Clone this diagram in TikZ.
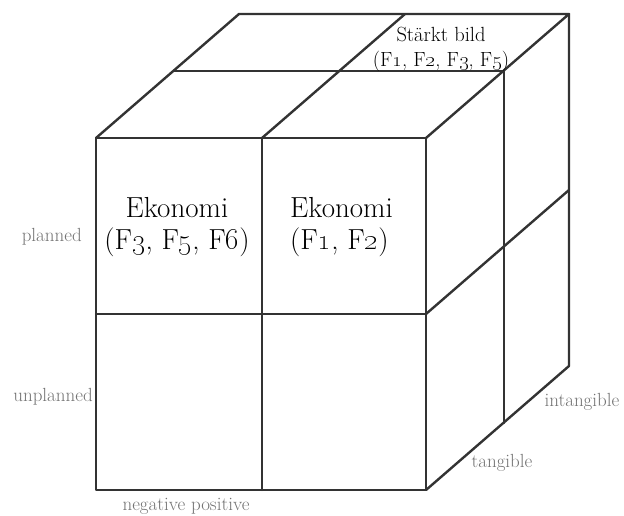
\documentclass[tikz,border=0pt]{standalone}
\usetikzlibrary{positioning}
\newcommand{\os}[1]{\oldstylenums{#1}}
\begin{document}
\begin{tikzpicture}[
    x=1pt, y=-1pt,
    edge/.style    ={line width=2.4pt, draw=black!80, line join=round, line cap=round},
    cell/.style    ={align=center, inner sep=0pt, font=\fontsize{29}{32}\selectfont},
    topcell/.style ={align=center, inner sep=0pt, font=\fontsize{20.5}{25}\selectfont},
    dim/.style     ={inner sep=0pt, text=black!55, font=\fontsize{19}{21}\selectfont},
]
\useasboundingbox (0,0) rectangle (624,516);
% corners of the cube
\coordinate (fbl) at (96,490);
\coordinate (fbr) at (426,490);
\coordinate (ftl) at (96,138);
\coordinate (ftr) at (426,138);
\coordinate (btl) at (239,14);
\coordinate (btr) at (569,14);
\coordinate (bbr) at (569,366);
% front face
\draw[edge] (fbl) rectangle (ftr);
\draw[edge] (262,138) -- (262,490);
\draw[edge] (96,314) -- (426,314);
% top face
\draw[edge] (ftl) -- (btl) -- (btr) -- (ftr);
\draw[edge] (174,71) -- (504,71);
\draw[edge] (262,138) -- (405,14);
% right face
\draw[edge] (btr) -- (bbr) -- (fbr);
\draw[edge] (426,314) -- (569,190);
\draw[edge] (504,71) -- (504,423);
% cells
\node[topcell] (strong) at (441,49) {St\"arkt bild\\(F\os{1}, F\os{2}, F\os{3}, F\os{5})};
\node[cell] (econneg) at (177,227) {Ekonomi\\(F\os{3}, F\os{5}, F\os{6})};
\node[cell, align=left, anchor=west] (econpos) at (290,227) {Ekonomi\\(F\os{1}, F\os{2})};
% axis labels
\node[dim, anchor=east] (plan)   at (82,237)  {planned};
\node[dim, anchor=east] (unplan) at (93,397)  {unplanned};
\node[dim] (negpos) at (186,506) {negative positive};
\node[dim] (tang)   at (502,463) {tangible};
\node[dim] (intang) at (582,402) {intangible};
\end{tikzpicture}
\end{document}
